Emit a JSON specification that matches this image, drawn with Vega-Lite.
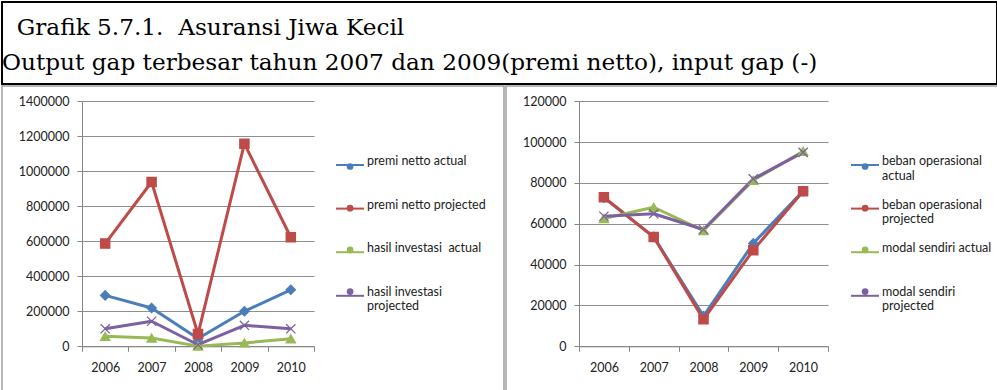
{
  "$schema": "https://vega.github.io/schema/vega-lite/v6.json",
  "padding": {"left": 1, "top": 1, "right": 1, "bottom": 0},
  "background": "white",
  "spacing": 0,
  "config": {
    "font": "Lato",
    "axis": {
      "labelFont": "Lato",
      "labelFontSize": 12.5,
      "labelColor": "#222222",
      "title": null,
      "domainColor": "#868686",
      "domainWidth": 1,
      "tickColor": "#868686",
      "tickSize": 5,
      "gridColor": "#8f8f8f",
      "gridWidth": 1
    },
    "legend": {
      "labelFont": "Lato",
      "labelFontSize": 12.5,
      "labelColor": "#222222",
      "labelLimit": 220
    }
  },
  "resolve": {
    "scale": {"color": "independent", "fill": "independent", "shape": "independent", "stroke": "independent"},
    "legend": {"color": "independent", "fill": "independent", "shape": "independent", "stroke": "independent"}
  },
  "datasets": {
    "kiri": [
      {"tahun": "2006", "seri": "premi netto actual", "nilai": 291000},
      {"tahun": "2007", "seri": "premi netto actual", "nilai": 219000},
      {"tahun": "2008", "seri": "premi netto actual", "nilai": 45000},
      {"tahun": "2009", "seri": "premi netto actual", "nilai": 200000},
      {"tahun": "2010", "seri": "premi netto actual", "nilai": 323000},
      {"tahun": "2006", "seri": "premi netto projected", "nilai": 587000},
      {"tahun": "2007", "seri": "premi netto projected", "nilai": 939000},
      {"tahun": "2008", "seri": "premi netto projected", "nilai": 70000},
      {"tahun": "2009", "seri": "premi netto projected", "nilai": 1158000},
      {"tahun": "2010", "seri": "premi netto projected", "nilai": 623000},
      {"tahun": "2006", "seri": "hasil investasi\u00a0 actual", "nilai": 57000},
      {"tahun": "2007", "seri": "hasil investasi\u00a0 actual", "nilai": 47000},
      {"tahun": "2008", "seri": "hasil investasi\u00a0 actual", "nilai": 1000},
      {"tahun": "2009", "seri": "hasil investasi\u00a0 actual", "nilai": 19000},
      {"tahun": "2010", "seri": "hasil investasi\u00a0 actual", "nilai": 43000},
      {"tahun": "2006", "seri": "hasil investasi projected", "nilai": 100000},
      {"tahun": "2007", "seri": "hasil investasi projected", "nilai": 143000},
      {"tahun": "2008", "seri": "hasil investasi projected", "nilai": 9000},
      {"tahun": "2009", "seri": "hasil investasi projected", "nilai": 120000},
      {"tahun": "2010", "seri": "hasil investasi projected", "nilai": 100000}
    ],
    "kanan": [
      {"tahun": "2006", "seri": "beban operasional actual", "nilai": 72800},
      {"tahun": "2007", "seri": "beban operasional actual", "nilai": 53600},
      {"tahun": "2008", "seri": "beban operasional actual", "nilai": 14800},
      {"tahun": "2009", "seri": "beban operasional actual", "nilai": 50400},
      {"tahun": "2010", "seri": "beban operasional actual", "nilai": 76000},
      {"tahun": "2006", "seri": "beban operasional projected", "nilai": 73000},
      {"tahun": "2007", "seri": "beban operasional projected", "nilai": 53500},
      {"tahun": "2008", "seri": "beban operasional projected", "nilai": 13200},
      {"tahun": "2009", "seri": "beban operasional projected", "nilai": 47100},
      {"tahun": "2010", "seri": "beban operasional projected", "nilai": 75900},
      {"tahun": "2006", "seri": "modal sendiri actual", "nilai": 62600},
      {"tahun": "2007", "seri": "modal sendiri actual", "nilai": 68100},
      {"tahun": "2008", "seri": "modal sendiri actual", "nilai": 56700},
      {"tahun": "2009", "seri": "modal sendiri actual", "nilai": 81300},
      {"tahun": "2010", "seri": "modal sendiri actual", "nilai": 95500},
      {"tahun": "2006", "seri": "modal sendiri projected", "nilai": 63700},
      {"tahun": "2007", "seri": "modal sendiri projected", "nilai": 64900},
      {"tahun": "2008", "seri": "modal sendiri projected", "nilai": 57200},
      {"tahun": "2009", "seri": "modal sendiri projected", "nilai": 82000},
      {"tahun": "2010", "seri": "modal sendiri projected", "nilai": 95000}
    ]
  },
  "vconcat": [
    {
      "width": 995,
      "height": 82,
      "view": {"stroke": "#000000", "strokeWidth": 2},
      "data": {"values": []},
      "mark": "text",
      "encoding": {},
      "title": {
        "text": [
          "\u200b\u00a0\u00a0Grafik 5.7.1.\u00a0 Asuransi Jiwa Kecil",
          "Output gap terbesar tahun 2007 dan 2009(premi netto), input gap (-)"
        ],
        "anchor": "start",
        "frame": "group",
        "orient": "top",
        "offset": -73,
        "dx": 0,
        "font": "DejaVu Serif",
        "fontSize": 23.2,
        "fontWeight": "normal",
        "color": "#000000",
        "lineHeight": 35
      }
    },
    {
      "spacing": 0,
      "resolve": {
        "scale": {"color": "independent", "fill": "independent", "shape": "independent", "stroke": "independent"},
        "legend": {"color": "independent", "fill": "independent", "shape": "independent", "stroke": "independent"}
      },
      "hconcat": [
        {
          "width": 502,
          "height": 306,
          "view": {"stroke": "#a0a0a0", "strokeWidth": 1.5},
          "data": {"name": "kiri"},
          "encoding": {
            "x": {
              "field": "tahun",
              "type": "ordinal",
              "scale": {"type": "band", "range": [80, 312], "paddingInner": 0, "paddingOuter": 0},
              "axis": {"orient": "bottom", "offset": -45.7, "tickBand": "extent", "labelAngle": 0, "labelPadding": 10, "grid": false}
            },
            "y": {
              "field": "nilai",
              "type": "quantitative",
              "scale": {"domain": [0, 1400000], "range": [260.3, 15.3], "nice": false},
              "axis": {
                "orient": "left",
                "offset": -80,
                "values": [0, 200000, 400000, 600000, 800000, 1000000, 1200000, 1400000],
                "format": "d",
                "labelPadding": 8,
                "grid": true
              }
            }
          },
          "layer": [
            {
              "mark": {"type": "line", "strokeWidth": 3, "strokeJoin": "round"},
              "encoding": {
                "color": {
                  "field": "seri",
                  "type": "nominal",
                  "scale": {
                    "domain": ["premi netto actual", "premi netto projected", "hasil investasi\u00a0 actual", "hasil investasi projected"],
                    "range": ["#4A7EBB", "#BE4B48", "#98B954", "#7D60A0"]
                  },
                  "legend": {
                    "title": null,
                    "orient": "none",
                    "legendX": 333,
                    "legendY": 64,
                    "padding": 0,
                    "symbolType": "stroke",
                    "symbolSize": 784,
                    "symbolStrokeWidth": 2,
                    "labelOffset": 2,
                    "rowPadding": 11.6,
                    "gridAlign": "all",
                    "labelBaseline": "alphabetic",
                    "labelExpr": "datum.label == 'hasil investasi projected' ? ['hasil investasi', 'projected'] : datum.label"
                  }
                }
              }
            },
            {
              "mark": {"type": "point", "filled": true, "opacity": 1, "size": 85, "strokeWidth": 1.3},
              "encoding": {
                "fill": {
                  "field": "seri",
                  "type": "nominal",
                  "sort": ["premi netto actual", "premi netto projected", "hasil investasi\u00a0 actual", "hasil investasi projected"],
                  "scale": {"range": ["#4A7EBB", "#BE4B48", "#98B954", "#7D60A0"]},
                  "legend": {
                    "title": null, "orient": "none", "legendX": 343.6, "legendY": 76, "padding": 0,
                    "symbolSize": 45, "symbolStrokeWidth": 1.3, "symbolOpacity": 1,
                    "labelFontSize": 1, "labelOffset": 0, "rowPadding": 33.7, "gridAlign": "all", "labelExpr": "''"
                  }
                },
                "shape": {
                  "field": "seri",
                  "type": "nominal",
                  "sort": ["premi netto actual", "premi netto projected", "hasil investasi\u00a0 actual", "hasil investasi projected"],
                  "scale": {"range": ["diamond", "square", "triangle-up", "M-1,-1L1,1M-1,1L1,-1"]},
                  "legend": null
                },
                "stroke": {
                  "field": "seri",
                  "type": "nominal",
                  "sort": ["premi netto actual", "premi netto projected", "hasil investasi\u00a0 actual", "hasil investasi projected"],
                  "scale": {"range": ["#4A7EBB", "#BE4B48", "#98B954", "#7D60A0"]},
                  "legend": null
                }
              }
            }
          ]
        },
        {
          "width": 493,
          "height": 306,
          "view": {"stroke": "#a0a0a0", "strokeWidth": 1.5},
          "data": {"name": "kanan"},
          "encoding": {
            "x": {
              "field": "tahun",
              "type": "ordinal",
              "scale": {"type": "band", "range": [73, 322], "paddingInner": 0, "paddingOuter": 0},
              "axis": {"orient": "bottom", "offset": -45.7, "tickBand": "extent", "labelAngle": 0, "labelPadding": 10, "grid": false}
            },
            "y": {
              "field": "nilai",
              "type": "quantitative",
              "scale": {"domain": [0, 120000], "range": [260.3, 15.3], "nice": false},
              "axis": {
                "orient": "left",
                "offset": -73,
                "values": [0, 20000, 40000, 60000, 80000, 100000, 120000],
                "format": "d",
                "labelPadding": 8,
                "grid": true
              }
            }
          },
          "layer": [
            {
              "mark": {"type": "line", "strokeWidth": 3, "strokeJoin": "round"},
              "encoding": {
                "color": {
                  "field": "seri",
                  "type": "nominal",
                  "scale": {
                    "domain": ["beban operasional actual", "beban operasional projected", "modal sendiri actual", "modal sendiri projected"],
                    "range": ["#4A7EBB", "#BE4B48", "#98B954", "#7D60A0"]
                  },
                  "legend": {
                    "title": null,
                    "orient": "none",
                    "legendX": 344,
                    "legendY": 64,
                    "padding": 0,
                    "symbolType": "stroke",
                    "symbolSize": 784,
                    "symbolStrokeWidth": 2,
                    "labelOffset": 2,
                    "rowPadding": 11.6,
                    "gridAlign": "all",
                    "labelBaseline": "alphabetic",
                    "labelExpr": "datum.label == 'modal sendiri actual' ? datum.label : [substring(datum.label, 0, lastindexof(datum.label, ' ')), substring(datum.label, lastindexof(datum.label, ' ') + 1)]"
                  }
                }
              }
            },
            {
              "mark": {"type": "point", "filled": true, "opacity": 1, "size": 85, "strokeWidth": 1.3},
              "encoding": {
                "fill": {
                  "field": "seri",
                  "type": "nominal",
                  "sort": ["beban operasional actual", "beban operasional projected", "modal sendiri actual", "modal sendiri projected"],
                  "scale": {"range": ["#4A7EBB", "#BE4B48", "#98B954", "#7D60A0"]},
                  "legend": {
                    "title": null, "orient": "none", "legendX": 354.6, "legendY": 76, "padding": 0,
                    "symbolSize": 45, "symbolStrokeWidth": 1.3, "symbolOpacity": 1,
                    "labelFontSize": 1, "labelOffset": 0, "rowPadding": 33.7, "gridAlign": "all", "labelExpr": "''"
                  }
                },
                "shape": {
                  "field": "seri",
                  "type": "nominal",
                  "sort": ["beban operasional actual", "beban operasional projected", "modal sendiri actual", "modal sendiri projected"],
                  "scale": {"range": ["diamond", "square", "triangle-up", "M-1,-1L1,1M-1,1L1,-1"]},
                  "legend": null
                },
                "stroke": {
                  "field": "seri",
                  "type": "nominal",
                  "sort": ["beban operasional actual", "beban operasional projected", "modal sendiri actual", "modal sendiri projected"],
                  "scale": {"range": ["#4A7EBB", "#BE4B48", "#98B954", "#7D60A0"]},
                  "legend": null
                }
              }
            }
          ]
        }
      ]
    }
  ]
}
